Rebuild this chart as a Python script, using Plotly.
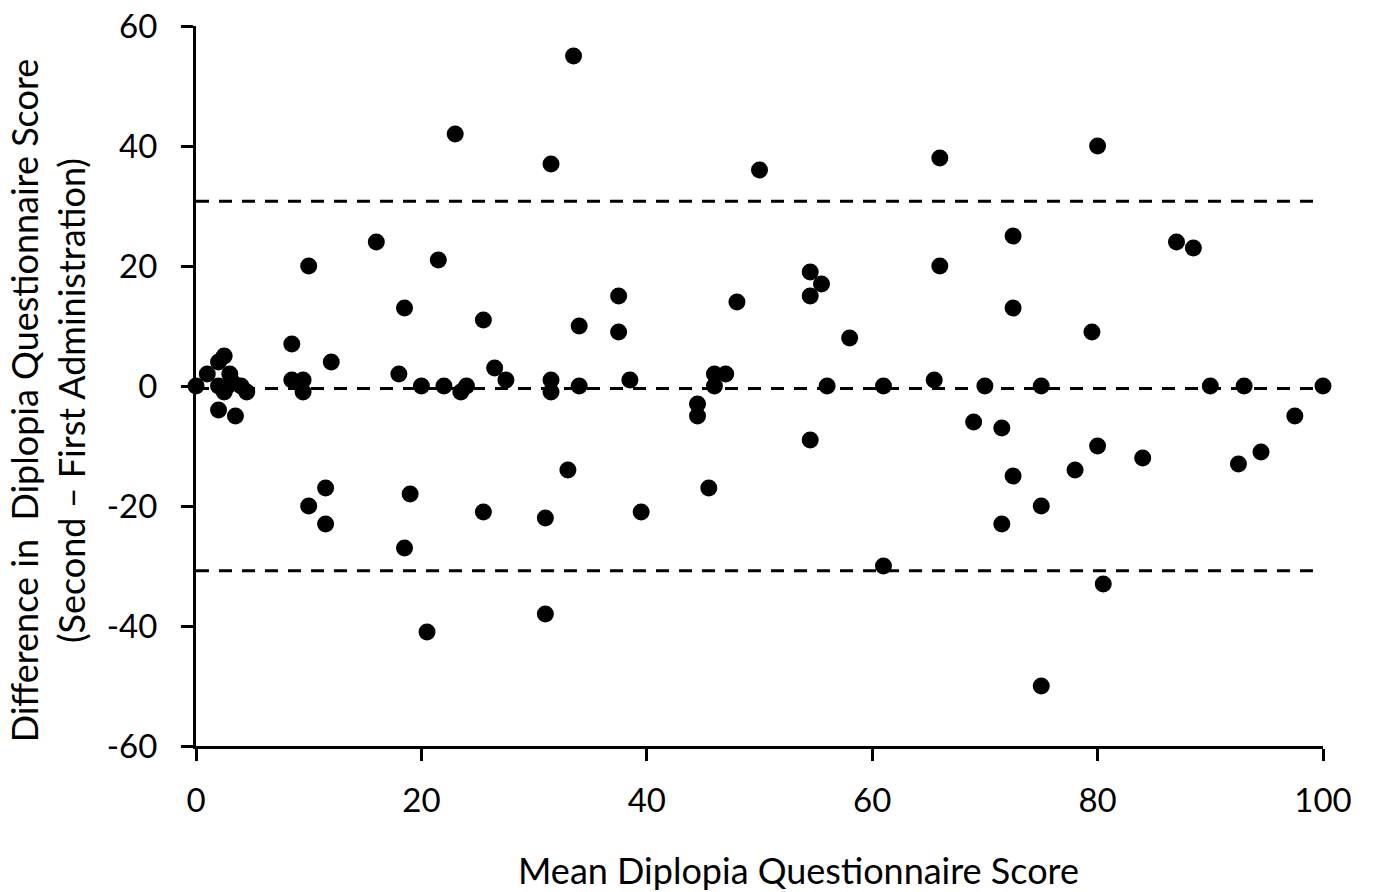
import plotly.graph_objects as go

mean_score = [0, 1, 2, 2.5, 3, 2, 2.8, 2.5, 3.3, 4, 4.5, 2, 3.5,
              10, 16, 21.5, 8.5, 12, 18.5, 25.5, 18, 8.5, 9.5, 9.5, 20, 22, 23.5, 24,
              26.5, 27.5, 31.5, 31.5,
              37.5, 37.5, 38.5, 48, 54.5, 55.5, 54.5, 58, 46, 47, 46, 56, 61, 44.5, 44.5, 54.5,
              72.5, 79.5, 65.5, 70, 75, 90, 93, 100, 69, 71.5, 80, 97.5, 84, 92.5, 94.5,
              23, 33.5, 31.5, 50, 66, 80, 66, 72.5, 87, 88.5, 34, 34, 33,
              10, 11.5, 11.5, 19, 18.5, 25.5, 31, 39.5, 31, 20.5, 45.5, 61, 71.5, 72.5,
              75, 78, 80.5, 75]
difference = [0, 2, 4, 5, 2, 0, 0, -1, 0.5, 0, -1, -4, -5,
              20, 24, 21, 7, 4, 13, 11, 2, 1, 1, -1, 0, 0, -1, 0,
              3, 1, 1, -1,
              15, 9, 1, 14, 19, 17, 15, 8, 2, 2, 0, 0, 0, -3, -5, -9,
              13, 9, 1, 0, 0, 0, 0, 0, -6, -7, -10, -5, -12, -13, -11,
              42, 55, 37, 36, 38, 40, 20, 25, 24, 23, 10, 0, -14,
              -20, -17, -23, -18, -27, -21, -22, -21, -38, -41, -17, -30, -23, -15,
              -20, -14, -33, -50]

reference_lines = [30.8, -0.4, -30.8]
x_ticks = [0, 20, 40, 60, 80, 100]
x_tick_labels = ["0", "20", "40", "60", "80", "100"]
y_ticks = [-60, -40, -20, 0, 20, 40, 60]
y_tick_labels = ["-60", "-40", "-20", "0", "20", "40", "60"]

FONT = "Lato"

fig = go.Figure()
fig.add_trace(go.Scatter(
    x=mean_score, y=difference, mode="markers",
    marker=dict(color="black", size=17, line=dict(width=0)),
    showlegend=False, hoverinfo="x+y", cliponaxis=False))

for yv in reference_lines:
    fig.add_shape(type="line", xref="x", yref="y", x0=0, x1=100, y0=yv, y1=yv,
                  line=dict(color="black", width=3, dash="13px,10px"), layer="below")

fig.update_layout(
    width=1373, height=892,
    margin=dict(l=188, r=58, t=18, b=154, autoexpand=False),
    paper_bgcolor="white", plot_bgcolor="white",
    font=dict(family=FONT, size=33, color="black"),
)
fig.update_xaxes(range=[0, 100], tickvals=x_ticks, ticktext=x_tick_labels,
                 showgrid=False, zeroline=False, automargin=False,
                 showline=True, linecolor="black", linewidth=3,
                 ticks="outside", ticklen=12, tickwidth=2.5, tickcolor="black",
                 ticklabelstandoff=11, ticklabeloverflow="allow", tickfont=dict(size=33))
fig.update_yaxes(range=[-60, 60], tickvals=y_ticks, ticktext=y_tick_labels,
                 showgrid=False, zeroline=False, automargin=False,
                 showline=True, linecolor="black", linewidth=3,
                 ticks="outside", ticklen=12, tickwidth=2.5, tickcolor="black",
                 ticklabelstandoff=17, ticklabeloverflow="allow", tickfont=dict(size=33))

fig.add_annotation(text="Mean Diplopia Questionnaire Score", xref="paper", yref="paper",
                   x=0.535, y=-0.172, yanchor="middle", showarrow=False,
                   font=dict(size=36, family=FONT))
fig.add_annotation(text="Difference in  Diplopia Questionnaire Score<br>(Second – First Administration)",
                   xref="paper", yref="paper", x=-0.131, y=0.4806, xanchor="center",
                   yanchor="middle", textangle=-90, showarrow=False,
                   font=dict(size=36, family=FONT))

fig.write_html("out.html")
